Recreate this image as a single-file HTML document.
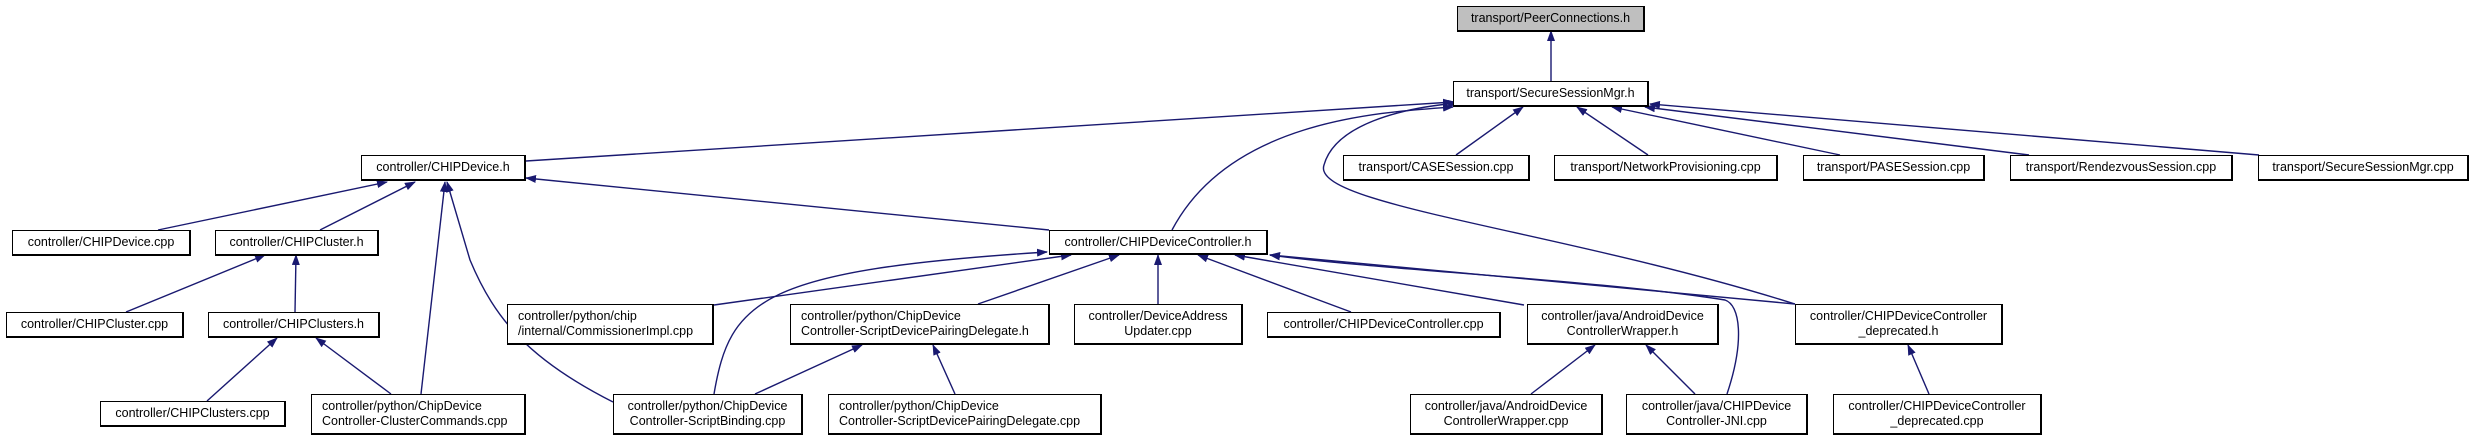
<!DOCTYPE html>
<html><head><meta charset="utf-8">
<style>
html,body{margin:0;padding:0;background:#fff;}
body{width:2471px;height:440px;position:relative;overflow:hidden;font-family:"Liberation Sans",Helvetica,Arial,sans-serif;}
.b{position:absolute;box-sizing:border-box;border:1px solid #000;border-right-width:2px;border-bottom-width:2px;background:#fff;font-size:12.5px;line-height:15px;color:#000;display:flex;flex-direction:column;justify-content:center;align-items:center;text-align:center;white-space:nowrap;}
.l{align-items:flex-start;padding-left:10px;}
.g{background:#bfbfbf;}
svg{position:absolute;left:0;top:0;}
</style></head><body>
<svg width="2471" height="440" viewBox="0 0 2471 440">
<defs><marker id="a" markerWidth="11" markerHeight="8" refX="10" refY="4" orient="auto" markerUnits="userSpaceOnUse"><path d="M0,0 L11,4 L0,8 z" fill="#191970"/></marker></defs>
<g stroke="#191970" stroke-width="1.4" fill="none" marker-end="url(#a)">
<path d="M1551,81 L1551,31"/>
<path d="M526,161 L1453,102"/>
<path d="M1172,230 C1230,120 1380,112 1453,107"/>
<path d="M1795,304 C1560,230 1310,205 1324,165 C1335,125 1400,108 1458,103"/>
<path d="M1456,155 L1523,107"/>
<path d="M1648,155 L1577,107"/>
<path d="M1840,155 L1612,107"/>
<path d="M2029,155 L1645,107"/>
<path d="M2259,155 L1650,104"/>
<path d="M158,230 L387,182"/>
<path d="M320,230 L415,182"/>
<path d="M421,394 L445,182"/>
<path d="M613,402 C530,360 495,320 470,260 L447,182"/>
<path d="M1049,230 L526,178"/>
<path d="M126,312 L265,255"/>
<path d="M295,312 L296,255"/>
<path d="M207,401 L277,338"/>
<path d="M391,394 L316,338"/>
<path d="M714,305 L1071,255"/>
<path d="M714,394 C730,300 760,270 1047,252"/>
<path d="M978,304 L1119,255"/>
<path d="M1158,304 L1158,255"/>
<path d="M1351,312 L1198,255"/>
<path d="M1524,305 L1235,255"/>
<path d="M1727,394 C1745,340 1740,305 1725,300 C1600,280 1380,270 1270,255"/>
<path d="M1795,304 L1270,255"/>
<path d="M755,394 L862,345"/>
<path d="M955,394 L933,345"/>
<path d="M1531,394 L1595,345"/>
<path d="M1695,394 L1646,345"/>
<path d="M1929,394 L1908,345"/>
</g>
</svg>
<div class="b g" style="left:1457px;top:6px;width:188px;height:26px">transport/PeerConnections.h</div>
<div class="b" style="left:1453px;top:81px;width:196px;height:26px">transport/SecureSessionMgr.h</div>
<div class="b" style="left:1343px;top:155px;width:187px;height:26px">transport/CASESession.cpp</div>
<div class="b" style="left:1554px;top:155px;width:224px;height:26px">transport/NetworkProvisioning.cpp</div>
<div class="b" style="left:1803px;top:155px;width:182px;height:26px">transport/PASESession.cpp</div>
<div class="b" style="left:2010px;top:155px;width:223px;height:26px">transport/RendezvousSession.cpp</div>
<div class="b" style="left:2258px;top:155px;width:211px;height:26px">transport/SecureSessionMgr.cpp</div>
<div class="b" style="left:361px;top:155px;width:165px;height:26px">controller/CHIPDevice.h</div>
<div class="b" style="left:1049px;top:230px;width:219px;height:25px">controller/CHIPDeviceController.h</div>
<div class="b" style="left:12px;top:230px;width:179px;height:26px">controller/CHIPDevice.cpp</div>
<div class="b" style="left:215px;top:230px;width:164px;height:26px">controller/CHIPCluster.h</div>
<div class="b" style="left:6px;top:312px;width:178px;height:26px">controller/CHIPCluster.cpp</div>
<div class="b" style="left:208px;top:312px;width:172px;height:26px">controller/CHIPClusters.h</div>
<div class="b" style="left:1267px;top:312px;width:234px;height:26px">controller/CHIPDeviceController.cpp</div>
<div class="b l" style="left:507px;top:304px;width:207px;height:41px"><div>controller/python/chip</div><div>/internal/CommissionerImpl.cpp</div></div>
<div class="b l" style="left:790px;top:304px;width:260px;height:41px"><div>controller/python/ChipDevice</div><div>Controller-ScriptDevicePairingDelegate.h</div></div>
<div class="b" style="left:1074px;top:304px;width:169px;height:41px"><div>controller/DeviceAddress</div><div>Updater.cpp</div></div>
<div class="b" style="left:1527px;top:304px;width:192px;height:41px"><div>controller/java/AndroidDevice</div><div>ControllerWrapper.h</div></div>
<div class="b" style="left:1795px;top:304px;width:208px;height:41px"><div>controller/CHIPDeviceController</div><div>_deprecated.h</div></div>
<div class="b" style="left:100px;top:401px;width:186px;height:26px">controller/CHIPClusters.cpp</div>
<div class="b l" style="left:311px;top:394px;width:215px;height:41px"><div>controller/python/ChipDevice</div><div>Controller-ClusterCommands.cpp</div></div>
<div class="b" style="left:613px;top:394px;width:190px;height:41px"><div>controller/python/ChipDevice</div><div>Controller-ScriptBinding.cpp</div></div>
<div class="b l" style="left:828px;top:394px;width:274px;height:41px"><div>controller/python/ChipDevice</div><div>Controller-ScriptDevicePairingDelegate.cpp</div></div>
<div class="b" style="left:1410px;top:394px;width:193px;height:41px"><div>controller/java/AndroidDevice</div><div>ControllerWrapper.cpp</div></div>
<div class="b" style="left:1626px;top:394px;width:182px;height:41px"><div>controller/java/CHIPDevice</div><div>Controller-JNI.cpp</div></div>
<div class="b" style="left:1833px;top:394px;width:209px;height:41px"><div>controller/CHIPDeviceController</div><div>_deprecated.cpp</div></div>
</body></html>
